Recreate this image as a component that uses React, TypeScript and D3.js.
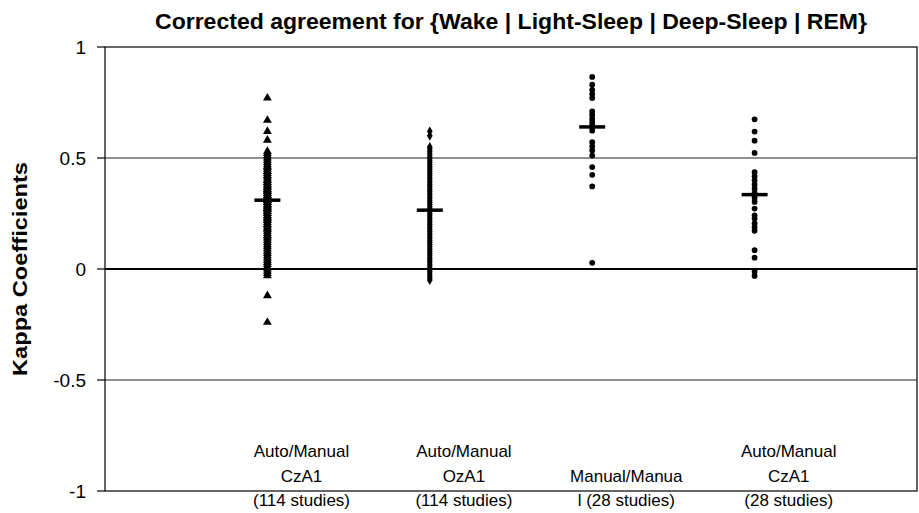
import React from "react";
import * as d3 from "d3";

const title = "Corrected agreement for {Wake | Light-Sleep | Deep-Sleep | REM}";
const yTitle = "Kappa Coefficients";
const yTicks = [1, 0.5, 0, -0.5, -1];
const yTickLabels = ["1", "0.5", "0", "-0.5", "-1"];
const gridValues = [0.5, -0.5];

const groupPositions = [1, 2, 3, 4];
const categoryLines = [
  ["Auto/Manual", "CzA1", "(114 studies)"],
  ["Auto/Manual", "OzA1", "(114 studies)"],
  ["", "Manual/Manua", "l (28 studies)"],
  ["Auto/Manual", "CzA1", "(28 studies)"],
];
const markerShapes = ["triangle", "diamond", "circle", "circle"];
const means = [0.31, 0.265, 0.64, 0.335];

const autoCzA1 = [
  0.77, 0.67, 0.62, 0.58, 0.53, 0.52, 0.51, 0.5, 0.49, 0.48, 0.47, 0.46, 0.46, 0.45, 0.44,
  0.44, 0.43, 0.42, 0.42, 0.41, 0.4, 0.4, 0.39, 0.39, 0.38, 0.38, 0.37, 0.37, 0.36, 0.36,
  0.35, 0.35, 0.35, 0.34, 0.34, 0.33, 0.33, 0.33, 0.32, 0.32, 0.32, 0.31, 0.31, 0.31, 0.3,
  0.3, 0.3, 0.29, 0.29, 0.29, 0.28, 0.28, 0.27, 0.27, 0.27, 0.26, 0.26, 0.25, 0.25, 0.24,
  0.24, 0.23, 0.23, 0.22, 0.22, 0.21, 0.2, 0.2, 0.19, 0.18, 0.18, 0.17, 0.16, 0.15, 0.15,
  0.14, 0.13, 0.12, 0.11, 0.1, 0.09, 0.08, 0.07, 0.06, 0.05, 0.04, 0.03, 0.02, 0.01, 0.0,
  -0.01, -0.02, -0.03, -0.12, -0.24,
];
const autoOzA1 = [
  0.62, 0.6, 0.55, 0.54, 0.53, 0.52, 0.51, 0.5, 0.49, 0.48, 0.47, 0.46, 0.45, 0.44, 0.43,
  0.42, 0.41, 0.4, 0.39, 0.38, 0.37, 0.36, 0.35, 0.34, 0.33, 0.32, 0.31, 0.3, 0.29, 0.28,
  0.27, 0.26, 0.25, 0.24, 0.23, 0.22, 0.21, 0.2, 0.19, 0.18, 0.17, 0.16, 0.15, 0.14, 0.13,
  0.12, 0.11, 0.1, 0.09, 0.08, 0.07, 0.06, 0.05, 0.04, 0.03, 0.02, 0.01, 0.0, -0.01, -0.02,
  -0.03, -0.04, -0.05,
];
const manualManual = [
  0.865, 0.83, 0.807, 0.788, 0.77, 0.71, 0.694, 0.676, 0.66, 0.646, 0.638, 0.623, 0.571,
  0.552, 0.534, 0.511, 0.459, 0.424, 0.372, 0.028,
];
const autoCzA1Small = [
  0.674, 0.619, 0.578, 0.523, 0.436, 0.417, 0.399, 0.38, 0.362, 0.342, 0.32, 0.302, 0.272,
  0.242, 0.227, 0.205, 0.187, 0.172, 0.085, 0.051, -0.012, -0.031,
];
const seriesValues = [autoCzA1, autoOzA1, manualManual, autoCzA1Small];

const W = 919;
const H = 513;
const plot = { left: 105, right: 917, top: 47, bottom: 491 };

export default function App() {
  const x = d3.scaleLinear().domain([0, 5]).range([plot.left, plot.right]);
  const y = d3.scaleLinear().domain([-1, 1]).range([plot.bottom, plot.top]);
  const tri = d3.symbol().type(d3.symbolTriangle).size(34)() as string;
  const dia = d3.symbol().type(d3.symbolDiamond).size(28)() as string;
  const circ = d3.symbol().type(d3.symbolCircle).size(26)() as string;
  const shapePath: Record<string, string> = { triangle: tri, diamond: dia, circle: circ };
  const font = "'Liberation Sans', Arial, Helvetica, sans-serif";
  const labelOffset = 0.21;

  return (
    <svg width={W} height={H} style={{ position: "absolute", left: 0, top: 0, background: "#fff" }}>
      <rect x={0} y={0} width={W} height={H} fill="#fff" />
      <text x={(plot.left + plot.right) / 2} y={29} textAnchor="middle" fontFamily={font} fontWeight="bold" fontSize={22} textLength={712} lengthAdjust="spacingAndGlyphs" fill="#000">
        {title}
      </text>
      {gridValues.map((v) => (
        <line key={v} x1={plot.left} x2={plot.right} y1={y(v)} y2={y(v)} stroke="#6b6b6b" strokeWidth={1.5} />
      ))}
      <line x1={plot.left} x2={plot.right} y1={y(0)} y2={y(0)} stroke="#000" strokeWidth={2} />
      <rect x={plot.left} y={plot.top} width={plot.right - plot.left} height={plot.bottom - plot.top} fill="none" stroke="#000" strokeWidth={1.2} />
      {yTicks.map((v, i) => (
        <g key={v}>
          <line x1={plot.left - 8} x2={plot.left} y1={y(v)} y2={y(v)} stroke="#000" strokeWidth={1.2} />
          <text x={86} y={y(v)} dy="0.35em" textAnchor="end" fontFamily={font} fontSize={19} fill="#000">
            {yTickLabels[i]}
          </text>
        </g>
      ))}
      <text transform={`translate(27, ${y(0)}) rotate(-90)`} textAnchor="middle" fontFamily={font} fontWeight="bold" fontSize={21} textLength={214} lengthAdjust="spacingAndGlyphs" fill="#000">
        {yTitle}
      </text>
      {seriesValues.map((vals, gi) => (
        <g key={gi}>
          {vals.map((v, j) => (
            <path key={j} d={shapePath[markerShapes[gi]]} transform={`translate(${x(groupPositions[gi])},${y(v)})`} fill="#000" />
          ))}
          <line x1={x(groupPositions[gi]) - 13} x2={x(groupPositions[gi]) + 13} y1={y(means[gi])} y2={y(means[gi])} stroke="#000" strokeWidth={3.5} />
        </g>
      ))}
      {categoryLines.map((lines, gi) => (
        <g key={gi}>
          {lines.map((t, li) => (
            <text key={li} x={x(groupPositions[gi] + labelOffset)} y={457 + li * 24.5} textAnchor="middle" fontFamily={font} fontSize={17} fill="#000">
              {t}
            </text>
          ))}
        </g>
      ))}
    </svg>
  );
}
